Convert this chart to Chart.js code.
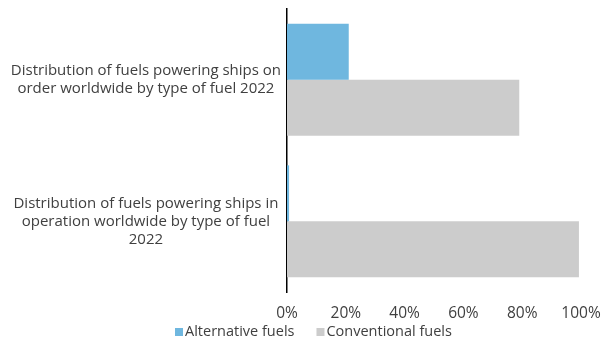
<!DOCTYPE html>
<html>
<head>
<meta charset="utf-8">
<script src="https://cdn.jsdelivr.net/npm/chart.js@4"></script>
<style>
html,body{margin:0;padding:0;background:#fff;}
#wrap{width:605px;height:345px;position:relative;}
</style>
</head>
<body>
<div id="wrap"><canvas id="c" width="605" height="345"></canvas></div>
<script>
const categories = [
  ["Distribution of fuels powering ships on", "order worldwide by type of fuel 2022"],
  ["Distribution of fuels powering ships in", "operation worldwide by type of fuel", "2022"]
];
const seriesNames = ["Alternative fuels", "Conventional fuels"];
const alternativeFuels = [21, 0.7];
const conventionalFuels = [79, 99.3];
const xTicks = [0, 20, 40, 60, 80, 100];

const FONT = "'Open Sans', sans-serif";
const TEXT = '#404040';

const customLegend = {
  id: 'customLegend',
  afterDraw(chart) {
    const ctx = chart.ctx;
    ctx.save();
    ctx.font = '14.5px ' + FONT;
    ctx.textBaseline = 'middle';
    ctx.textAlign = 'left';
    const y = 332;
    let x = 175;
    chart.data.datasets.forEach((ds) => {
      ctx.fillStyle = ds.backgroundColor;
      ctx.fillRect(x, y - 4, 8, 8);
      ctx.fillStyle = TEXT;
      ctx.fillText(ds.label, x + 10, y);
      x += 10 + ctx.measureText(ds.label).width + 22;
    });
    ctx.restore();
  }
};

new Chart(document.getElementById('c'), {
  type: 'bar',
  data: {
    labels: categories,
    datasets: [
      { label: seriesNames[0], data: alternativeFuels, backgroundColor: '#6fb7df', borderWidth: 0 },
      { label: seriesNames[1], data: conventionalFuels, backgroundColor: '#cccccc', borderWidth: 0 }
    ]
  },
  options: {
    indexAxis: 'y',
    responsive: false,
    animation: false,
    devicePixelRatio: 1,
    layout: { padding: { top: 9, bottom: 22, right: 24, left: 0 } },
    datasets: { bar: { categoryPercentage: 0.79, barPercentage: 1.0 } },
    plugins: { legend: { display: false }, tooltip: { enabled: false } },
    scales: {
      x: {
        min: 0, max: 100,
        afterBuildTicks(scale) { scale.ticks = xTicks.map(v => ({ value: v })); },
        afterFit(scale) { scale.height = 31; scale.paddingLeft = 0; scale.paddingRight = 0; },
        grid: { display: false, drawTicks: false },
        border: { display: false },
        ticks: {
          padding: 12,
          color: TEXT,
          font: { family: FONT, size: 15.5 },
          callback: (v) => v + '%'
        }
      },
      y: {
        afterFit(scale) { scale.width = 287; scale.paddingTop = 0; scale.paddingBottom = 0; },
        grid: { display: false, drawTicks: false },
        border: { display: true, color: '#000000', width: 1.5 },
        ticks: {
          padding: 6,
          crossAlign: 'center',
          color: TEXT,
          font: { family: FONT, size: 15, lineHeight: 1.2 }
        }
      }
    }
  },
  plugins: [customLegend]
});
</script>
</body>
</html>
